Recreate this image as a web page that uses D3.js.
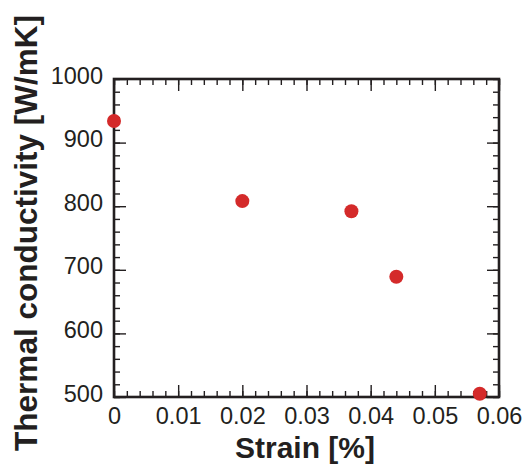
<!DOCTYPE html>
<html>
<head>
<meta charset="utf-8">
<script src="https://cdn.jsdelivr.net/npm/d3@7"></script>
<style>
	body { margin: 0; background: #fff; }
	svg { display: block; font-family: "Liberation Sans", Arial, sans-serif; }
	.axis text { fill: #231f20; font-size: 23.5px; }
	.axis line { stroke: #231f20; stroke-width: 1.4; }
</style>
</head>
<body>
<div id="chart"></div>
<script>
// data
var strain = [0, 0.02, 0.037, 0.044, 0.057];
var conductivity = [934, 808, 792, 689, 505];
var xTicks = [0, 0.01, 0.02, 0.03, 0.04, 0.05, 0.06];
var yTicks = [500, 600, 700, 800, 900, 1000];

const width = 526;
const height = 468;
const margin = {top: 79, right: 27, bottom: 71, left: 114};
const ink = '#231f20';
const dotColor = '#d42a2a';

const svg = d3.select('#chart')
	.append('svg')
	.attr('width', width)
	.attr('height', height);

const x = d3.scaleLinear()
	.domain([0, 0.06])
	.range([margin.left, width - margin.right]);

const y = d3.scaleLinear()
	.domain([500, 1000])
	.range([height - margin.bottom, margin.top]);

const xFmt = d => d === 0 ? '0' : d3.format('.2f')(d);

// minor ticks (inward, all four sides)
const minor = 6;
svg.append('g').attr('class', 'axis')
	.attr('transform', `translate(0, ${y(500)})`)
	.call(d3.axisBottom(x).tickValues(x.ticks(30)).tickSize(-minor).tickFormat(''));
svg.append('g').attr('class', 'axis')
	.attr('transform', `translate(0, ${y(1000)})`)
	.call(d3.axisTop(x).tickValues(x.ticks(30)).tickSize(-minor).tickFormat(''));
svg.append('g').attr('class', 'axis')
	.attr('transform', `translate(${x(0)}, 0)`)
	.call(d3.axisLeft(y).tickValues(y.ticks(25)).tickSize(-minor).tickFormat(''));
svg.append('g').attr('class', 'axis')
	.attr('transform', `translate(${x(0.06)}, 0)`)
	.call(d3.axisRight(y).tickValues(y.ticks(25)).tickSize(-minor).tickFormat(''));

// major ticks
const major = 12;
svg.append('g').attr('class', 'axis')
	.attr('transform', `translate(0, ${y(500)})`)
	.call(d3.axisBottom(x).tickValues(xTicks).tickSize(-major).tickPadding(10).tickFormat(xFmt));
svg.append('g').attr('class', 'axis')
	.attr('transform', `translate(0, ${y(1000)})`)
	.call(d3.axisTop(x).tickValues(xTicks).tickSize(-major).tickFormat(''));
svg.append('g').attr('class', 'axis y-left')
	.attr('transform', `translate(${x(0)}, 0)`)
	.call(d3.axisLeft(y).tickValues(yTicks).tickSize(-major).tickPadding(11).tickFormat(d3.format('d')))
	.selectAll('text').attr('dy', '0.17em');
svg.append('g').attr('class', 'axis')
	.attr('transform', `translate(${x(0.06)}, 0)`)
	.call(d3.axisRight(y).tickValues(yTicks).tickSize(-major).tickFormat(''));

svg.selectAll('.axis .domain').remove();

// frame
svg.append('rect')
	.attr('x', x(0))
	.attr('y', y(1000))
	.attr('width', x(0.06) - x(0))
	.attr('height', y(500) - y(1000))
	.attr('fill', 'none')
	.attr('stroke', ink)
	.attr('stroke-width', 2.6);

// points
svg.append('g')
	.selectAll('circle')
	.data(strain.map((s, i) => ({s: s, k: conductivity[i]})))
	.enter()
	.append('circle')
	.attr('cx', d => x(d.s))
	.attr('cy', d => y(d.k))
	.attr('r', 7)
	.attr('fill', dotColor);

// axis titles
svg.append('text')
	.attr('x', 305)
	.attr('y', 458)
	.attr('text-anchor', 'middle')
	.attr('font-size', 30)
	.attr('font-weight', 'bold')
	.attr('fill', ink)
	.text('Strain [%]');

svg.append('text')
	.attr('transform', 'translate(37, 233) rotate(-90)')
	.attr('text-anchor', 'middle')
	.attr('font-size', 31.5)
	.attr('font-weight', 'bold')
	.attr('fill', ink)
	.text('Thermal conductivity [W/mK]');
</script>
</body>
</html>
